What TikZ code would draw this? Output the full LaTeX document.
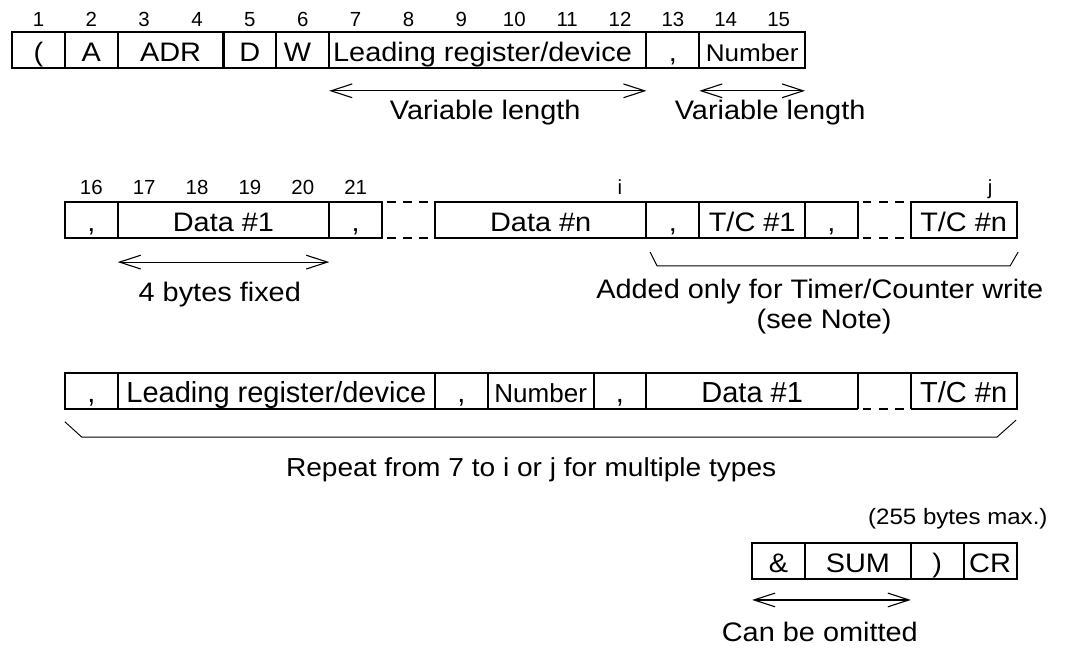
\documentclass[tikz,border=0pt]{standalone}
\usepackage{fontspec}
\setmainfont{Liberation Sans}
\newfontfamily\widefont{Liberation Sans}[FakeStretch=1.08]
\usetikzlibrary{arrows.meta}

\tikzset{
  cell/.style={line width=1.1pt},
  gapline/.style={line width=1.1pt, dash pattern=on 4.8pt off 4pt, dash phase=6.3pt},
  field/.style={anchor=base, inner sep=0pt, font=\widefont\fontsize{14.4}{17}\selectfont},
  smallfield/.style={anchor=base, inner sep=0pt, font=\widefont\fontsize{13}{15}\selectfont},
  tallfield/.style={anchor=base, inner sep=0pt, font=\fontsize{15.6}{18}\selectfont},
  tallsmall/.style={anchor=base, inner sep=0pt, font=\fontsize{14}{16}\selectfont},
  bytenum/.style={anchor=base, inner sep=0pt, font=\fontsize{11}{13}\selectfont},
  span/.style={line width=0.6pt, {Straight Barb[length=0.4cm,width=0.26cm]}-{Straight Barb[length=0.4cm,width=0.26cm]}},
  bracket/.style={line width=0.5pt},
}

\begin{document}
\begin{tikzpicture}
\useasboundingbox (-0.227,0) rectangle (19.917,12.238);
% first line: header, leading register and count
\node[bytenum] (n1) at (0.5,11.73) {1};
\node[bytenum] (n2) at (1.5,11.73) {2};
\node[bytenum] (n3) at (2.5,11.73) {3};
\node[bytenum] (n4) at (3.5,11.73) {4};
\node[bytenum] (n5) at (4.5,11.73) {5};
\node[bytenum] (n6) at (5.5,11.73) {6};
\node[bytenum] (n7) at (6.5,11.73) {7};
\node[bytenum] (n8) at (7.5,11.73) {8};
\node[bytenum] (n9) at (8.5,11.73) {9};
\node[bytenum] (n10) at (9.5,11.73) {10};
\node[bytenum] (n11) at (10.5,11.73) {11};
\node[bytenum] (n12) at (11.5,11.73) {12};
\node[bytenum] (n13) at (12.5,11.73) {13};
\node[bytenum] (n14) at (13.5,11.73) {14};
\node[bytenum] (n15) at (14.5,11.73) {15};
\draw[cell] (0,10.95) rectangle (15,11.63);
\draw[cell] (1,10.95) -- (1,11.63);
\draw[cell] (2,10.95) -- (2,11.63);
\draw[cell] (4,10.95) -- (4,11.63);
\draw[cell] (5,10.95) -- (5,11.63);
\draw[cell] (6,10.95) -- (6,11.63);
\draw[cell] (12,10.95) -- (12,11.63);
\draw[cell] (13,10.95) -- (13,11.63);
\node[field] (open) at (0.5,11.07) {(};
\node[field] (stn) at (1.5,11.07) {A};
\node[field] (adr) at (3,11.07) {ADR};
\node[field] (dcmd) at (4.5,11.07) {D};
\node[field] (wcmd) at (5.4,11.07) {W};
\node[field] (lead) at (8.9,11.07) {Leading register/device};
\node[field] (sepa) at (12.5,11.07) {,};
\node[smallfield] (count) at (14,11.07) {Number};
\draw[span] (6,10.52) -- (12,10.52);
\draw[span] (13,10.52) -- (15,10.52);
\node[field] (varlead) at (8.95,9.97) {Variable length};
\node[field] (varcount) at (14.34,9.97) {Variable length};

% second line: data and timer/counter values
\node[bytenum] (n16) at (1.5,8.55) {16};
\node[bytenum] (n17) at (2.5,8.55) {17};
\node[bytenum] (n18) at (3.5,8.55) {18};
\node[bytenum] (n19) at (4.5,8.55) {19};
\node[bytenum] (n20) at (5.5,8.55) {20};
\node[bytenum] (n21) at (6.5,8.55) {21};
\node[bytenum] (ni) at (11.5,8.55) {i};
\node[bytenum] (nj) at (18.5,8.55) {j};
\draw[cell] (1,7.74) rectangle (7,8.41);
\draw[cell] (2,7.74) -- (2,8.41);
\draw[cell] (6,7.74) -- (6,8.41);
\draw[gapline] (7,8.41) -- (8,8.41);
\draw[gapline] (7,7.74) -- (8,7.74);
\draw[cell] (8,7.74) rectangle (16,8.41);
\draw[cell] (12,7.74) -- (12,8.41);
\draw[cell] (13,7.74) -- (13,8.41);
\draw[cell] (15,7.74) -- (15,8.41);
\draw[gapline] (16,8.41) -- (17,8.41);
\draw[gapline] (16,7.74) -- (17,7.74);
\draw[cell] (17,7.74) rectangle (19,8.41);
\node[field] (sepb) at (1.5,7.86) {,};
\node[field] (dfirst) at (4,7.86) {Data \#1};
\node[field] (sepc) at (6.5,7.86) {,};
\node[field] (dlast) at (10,7.86) {Data \#n};
\node[field] (sepd) at (12.5,7.86) {,};
\node[field] (tcfirst) at (14,7.86) {T/C \#1};
\node[field] (sepe) at (15.5,7.86) {,};
\node[field] (tclast) at (18,7.86) {T/C \#n};
\draw[span] (2,7.28) -- (6,7.28);
\node[field] (fixed) at (3.93,6.53) {4 bytes fixed};
\draw[bracket] (12.07,7.47) -- (12.2,7.21) -- (18.88,7.21) -- (19.03,7.47);
\node[field] (tcnote) at (15.28,6.6) {Added only for Timer/Counter write};
\node[field] (seenote) at (15.36,6.02) {(see Note)};

% third line: repeated block
\draw[cell] (16,4.51) -- (1,4.51) -- (1,5.19) -- (19,5.19) -- (19,4.51) -- (17,4.51);
\draw[gapline] (16,4.51) -- (17,4.51);
\draw[cell] (2,4.51) -- (2,5.19);
\draw[cell] (8,4.51) -- (8,5.19);
\draw[cell] (9,4.51) -- (9,5.19);
\draw[cell] (11,4.51) -- (11,5.19);
\draw[cell] (12,4.51) -- (12,5.19);
\draw[cell] (16,4.51) -- (16,5.19);
\draw[cell] (17,4.51) -- (17,5.19);
\node[tallfield] (sepf) at (1.5,4.63) {,};
\node[tallfield] (leadb) at (5,4.63) {Leading register/device};
\node[tallfield] (sepg) at (8.5,4.63) {,};
\node[tallsmall] (countb) at (10,4.63) {Number};
\node[tallfield] (seph) at (11.5,4.63) {,};
\node[tallfield] (dfirstb) at (14,4.63) {Data \#1};
\node[tallfield] (tclastb) at (18,4.63) {T/C \#n};
\draw[bracket] (1,4.26) -- (1.32,3.97) -- (18.63,3.97) -- (18.99,4.29);
\node[field, font=\widefont\fontsize{14}{17}\selectfont] (repeat) at (9.82,3.22) {Repeat from 7 to i or j for multiple types};

% trailer
\node[field, font=\widefont\fontsize{12}{14}\selectfont] (maxlen) at (17.89,2.31) {(255 bytes max.)};
\draw[cell] (14,1.29) rectangle (19,1.97);
\draw[cell] (15,1.29) -- (15,1.97);
\draw[cell] (17,1.29) -- (17,1.97);
\draw[cell] (18,1.29) -- (18,1.97);
\node[field] (amp) at (14.5,1.41) {\&};
\node[field] (sum) at (16,1.41) {SUM};
\node[field] (close) at (17.5,1.41) {)};
\node[field] (cr) at (18.5,1.41) {CR};
\draw[span] (14,0.89) -- (17,0.89);
\node[field] (omit) at (15.28,0.1) {Can be omitted};
\end{tikzpicture}
\end{document}
